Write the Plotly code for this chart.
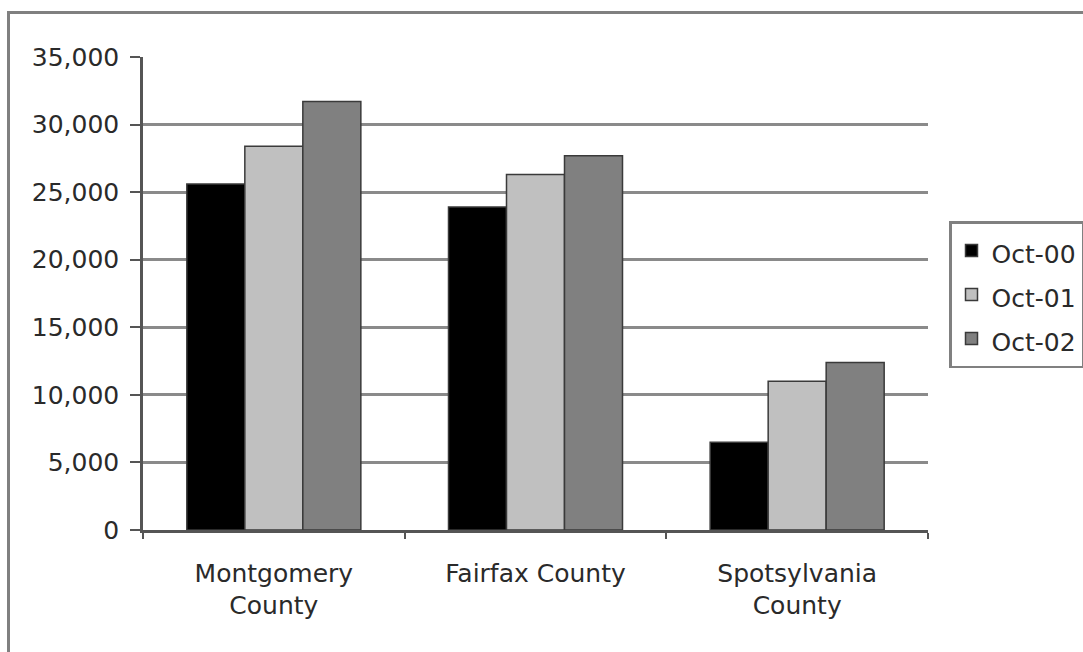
import plotly.graph_objects as go

categories = ["Montgomery<br>County", "Fairfax County", "Spotsylvania<br>County"]
series_names = ["Oct-00", "Oct-01", "Oct-02"]
oct00 = [25600, 23900, 6500]
oct01 = [28400, 26300, 11000]
oct02 = [31700, 27700, 12400]
y_ticks = [0, 5000, 10000, 15000, 20000, 25000, 30000, 35000]

colors = ["#000000", "#c0c0c0", "#808080"]
FONT = "DejaVu Sans, Liberation Sans, Arial, sans-serif"
TXT = "#2a2a2a"

fig = go.Figure()
for name, vals, col in zip(series_names, [oct00, oct01, oct02], colors):
    fig.add_trace(go.Bar(
        x=categories, y=vals, name=f'<span style="font-size:25px">{name}</span>',
        marker=dict(color=col, line=dict(color="#3a3a3a", width=1.5)),
    ))

W, H = 1083, 652
L, R, T, B = 143, 155, 57, 122
pw, ph = W - L - R, H - T - B

def px_x(x):
    return (x - L) / pw

def px_y(y):
    return (H - B - y) / ph

fig.update_layout(
    width=W, height=H,
    margin=dict(l=L, r=R, t=T, b=B, autoexpand=False),
    paper_bgcolor="white", plot_bgcolor="white",
    barmode="group", bargap=0.335, bargroupgap=0,
    font=dict(family=FONT, size=24, color=TXT),
    legend=dict(
        x=px_x(949), y=px_y(221), xanchor="left", yanchor="top",
        bordercolor="#808080", borderwidth=2.5, bgcolor="white",
        font=dict(size=31.5, family=FONT, color=TXT),
        itemclick=False,
    ),
    xaxis=dict(
        showline=True, linecolor="#555555", linewidth=2.5,
        ticks="outside", tickson="boundaries", ticklen=6, tickcolor="#555555", tickwidth=2,
        ticklabelstandoff=19, showgrid=False,
        tickfont=dict(size=25, family=FONT, color=TXT),
    ),
    yaxis=dict(
        range=[0, 35000], tickvals=y_ticks, tickformat=",d",
        showline=True, linecolor="#555555", linewidth=2.5,
        ticks="outside", ticklen=10, tickcolor="#555555", tickwidth=2,
        ticklabelstandoff=6,
        showgrid=True, gridcolor="#8a8a8a", gridwidth=2.5, zeroline=False,
        tickfont=dict(size=25, family=FONT, color=TXT),
    ),
    shapes=[dict(
        type="rect", xref="paper", yref="paper",
        x0=px_x(8.5), x1=px_x(1120), y0=px_y(720), y1=px_y(12.5),
        line=dict(color="#808080", width=3), fillcolor="rgba(0,0,0,0)", layer="below",
    )],
)

fig.write_html(
    "out.html",
    config={"displayModeBar": False},
    post_script="document.body.style.margin='0';document.body.style.overflow='hidden';",
)
